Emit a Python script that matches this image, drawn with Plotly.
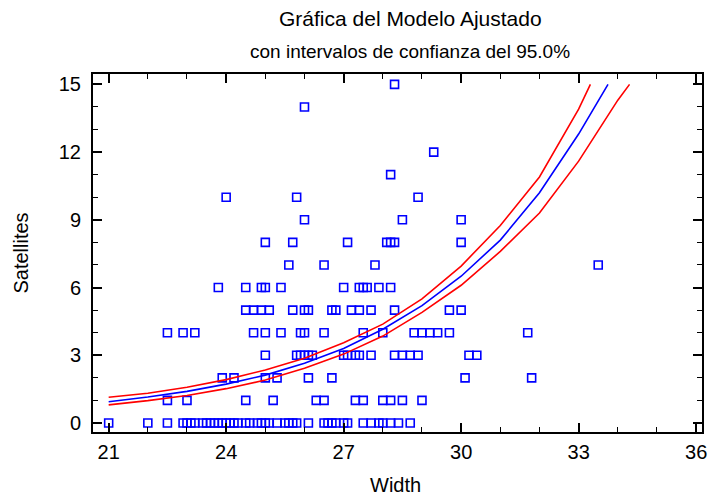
import plotly.graph_objects as go

# ---- observed points: Width values grouped by number of Satellites ----
widths_sat0 = [21.0, 22.0, 22.5, 22.9, 23.0, 23.1, 23.2, 23.4, 23.5, 23.6, 23.7, 23.8, 23.9,
               24.0, 24.1, 24.2, 24.3, 24.5, 24.6, 24.8, 24.9, 25.0, 25.1, 25.3, 25.5, 25.6,
               25.7, 25.8, 26.1, 26.5, 26.6, 26.7, 26.8, 27.0, 27.1, 27.5, 27.7, 27.9, 28.0,
               28.2, 28.4, 28.7]
widths_sat1 = [22.5, 23.0, 24.5, 25.2, 26.3, 26.5, 27.3, 27.5, 28.0, 28.2, 28.5, 29.0]
widths_sat2 = [23.9, 24.2, 25.0, 25.3, 26.1, 26.7, 30.1, 31.8]
widths_sat3 = [25.0, 25.8, 25.9, 26.0, 26.1, 26.2, 27.0, 27.1, 27.3, 27.4, 27.7, 28.3, 28.5,
               28.7, 28.9, 30.2, 30.4]
widths_sat4 = [22.5, 22.9, 23.2, 24.7, 25.0, 25.4, 25.9, 26.0, 26.5, 27.5, 28.0, 28.8, 29.0,
               29.2, 29.4, 29.7, 31.7]
widths_sat5 = [24.5, 24.7, 24.9, 25.1, 25.7, 26.0, 26.1, 26.7, 26.8, 27.2, 27.4, 27.7, 28.3,
               29.7, 30.0]
widths_sat6 = [23.8, 24.5, 24.9, 25.0, 25.4, 27.0, 27.4, 27.5, 27.6, 27.9, 28.2]
widths_sat7 = [25.6, 26.5, 27.8, 33.5]
widths_sat8 = [25.0, 25.7, 27.1, 28.1, 28.2, 28.3, 30.0]
widths_sat9 = [26.0, 28.5, 30.0]
widths_sat10 = [24.0, 25.8, 28.9]
widths_sat11 = [28.2]
widths_sat12 = [29.3]
widths_sat14 = [26.0]
widths_sat15 = [28.3]

groups = [(0, widths_sat0), (1, widths_sat1), (2, widths_sat2), (3, widths_sat3),
          (4, widths_sat4), (5, widths_sat5), (6, widths_sat6), (7, widths_sat7),
          (8, widths_sat8), (9, widths_sat9), (10, widths_sat10), (11, widths_sat11),
          (12, widths_sat12), (14, widths_sat14), (15, widths_sat15)]
point_x, point_y = [], []
for sat, ws in groups:
    point_x += ws
    point_y += [sat] * len(ws)

# ---- fitted model and 95% confidence limits ----
fit_width = [21, 22, 23, 24, 25, 26, 27, 28, 29, 30, 31, 32, 33, 33.75]
fit_mean = [0.94, 1.15, 1.40, 1.72, 2.12, 2.65, 3.30, 4.15, 5.20, 6.50, 8.10, 10.2, 12.8, 15.0]
upper_width = [21, 22, 23, 24, 25, 26, 27, 28, 29, 30, 31, 32, 33, 33.3]
upper_vals = [1.14, 1.32, 1.58, 1.92, 2.35, 2.87, 3.55, 4.38, 5.50, 6.95, 8.75, 10.9, 13.9, 15.0]
lower_width = [21, 22, 23, 24, 25, 26, 27, 28, 29, 30, 31, 32, 33, 34, 34.3]
lower_vals = [0.80, 0.99, 1.22, 1.52, 1.90, 2.42, 3.05, 3.85, 4.90, 6.10, 7.60, 9.30, 11.6, 14.3, 15.0]

x_ticks = [21, 24, 27, 30, 33, 36]
y_ticks = [0, 3, 6, 9, 12, 15]

FONT = "Liberation Sans, Arial, sans-serif"

fig = go.Figure()
fig.add_trace(go.Scatter(x=point_x, y=point_y, mode="markers",
                         marker=dict(symbol="square-open", size=8, color="#0000ff",
                                     line=dict(width=1.6, color="#0000ff")),
                         showlegend=False, hoverinfo="x+y"))
fig.add_trace(go.Scatter(x=upper_width, y=upper_vals, mode="lines",
                         line=dict(color="#ff0000", width=1.6), showlegend=False))
fig.add_trace(go.Scatter(x=lower_width, y=lower_vals, mode="lines",
                         line=dict(color="#ff0000", width=1.6), showlegend=False))
fig.add_trace(go.Scatter(x=fit_width, y=fit_mean, mode="lines",
                         line=dict(color="#0000ff", width=1.6), showlegend=False))

axis_common = dict(showgrid=False, zeroline=False, showline=True, linecolor="black",
                   linewidth=2, mirror="ticks", ticks="inside", ticklen=9, tickwidth=1.5,
                   tickcolor="black", tickfont=dict(family=FONT, size=20, color="black"),
                   ticklabeloverflow="allow")

fig.update_xaxes(range=[20.6, 36.15], tickvals=x_ticks, ticklabelstandoff=1,
                 minor=dict(dtick=1, tick0=21, ticks="inside", ticklen=5, tickwidth=1.2,
                            tickcolor="black"),
                 **axis_common)
fig.update_yaxes(range=[-0.4, 15.46], tickvals=y_ticks, ticklabelstandoff=6,
                 minor=dict(dtick=1, tick0=0, ticks="inside", ticklen=5, tickwidth=1.2,
                            tickcolor="black"),
                 **axis_common)

annots = [
    dict(text="Gráfica del Modelo Ajustado", x=0.521, y=1.156, font=dict(size=21)),
    dict(text="con intervalos de confianza del 95.0%", x=0.521, y=1.064, font=dict(size=19)),
    dict(text="Width", x=0.497, y=-0.148, font=dict(size=20)),
    dict(text="Satellites", x=-0.119, y=0.5, textangle=-90, font=dict(size=20)),
]
for a in annots:
    a["font"].update(family=FONT, color="black")
    fig.add_annotation(xref="paper", yref="paper", showarrow=False,
                       xanchor="center", yanchor="middle", **a)

fig.update_layout(width=708, height=495, plot_bgcolor="white", paper_bgcolor="white",
                  margin=dict(l=93, r=1, t=74, b=63), hovermode="closest")

# remove the default page margin so the figure fills the 708x495 window exactly
fig.write_html("out.html",
               config={"displayModeBar": False},
               post_script="document.body.style.margin='0';"
                           "document.body.style.overflow='hidden';")
